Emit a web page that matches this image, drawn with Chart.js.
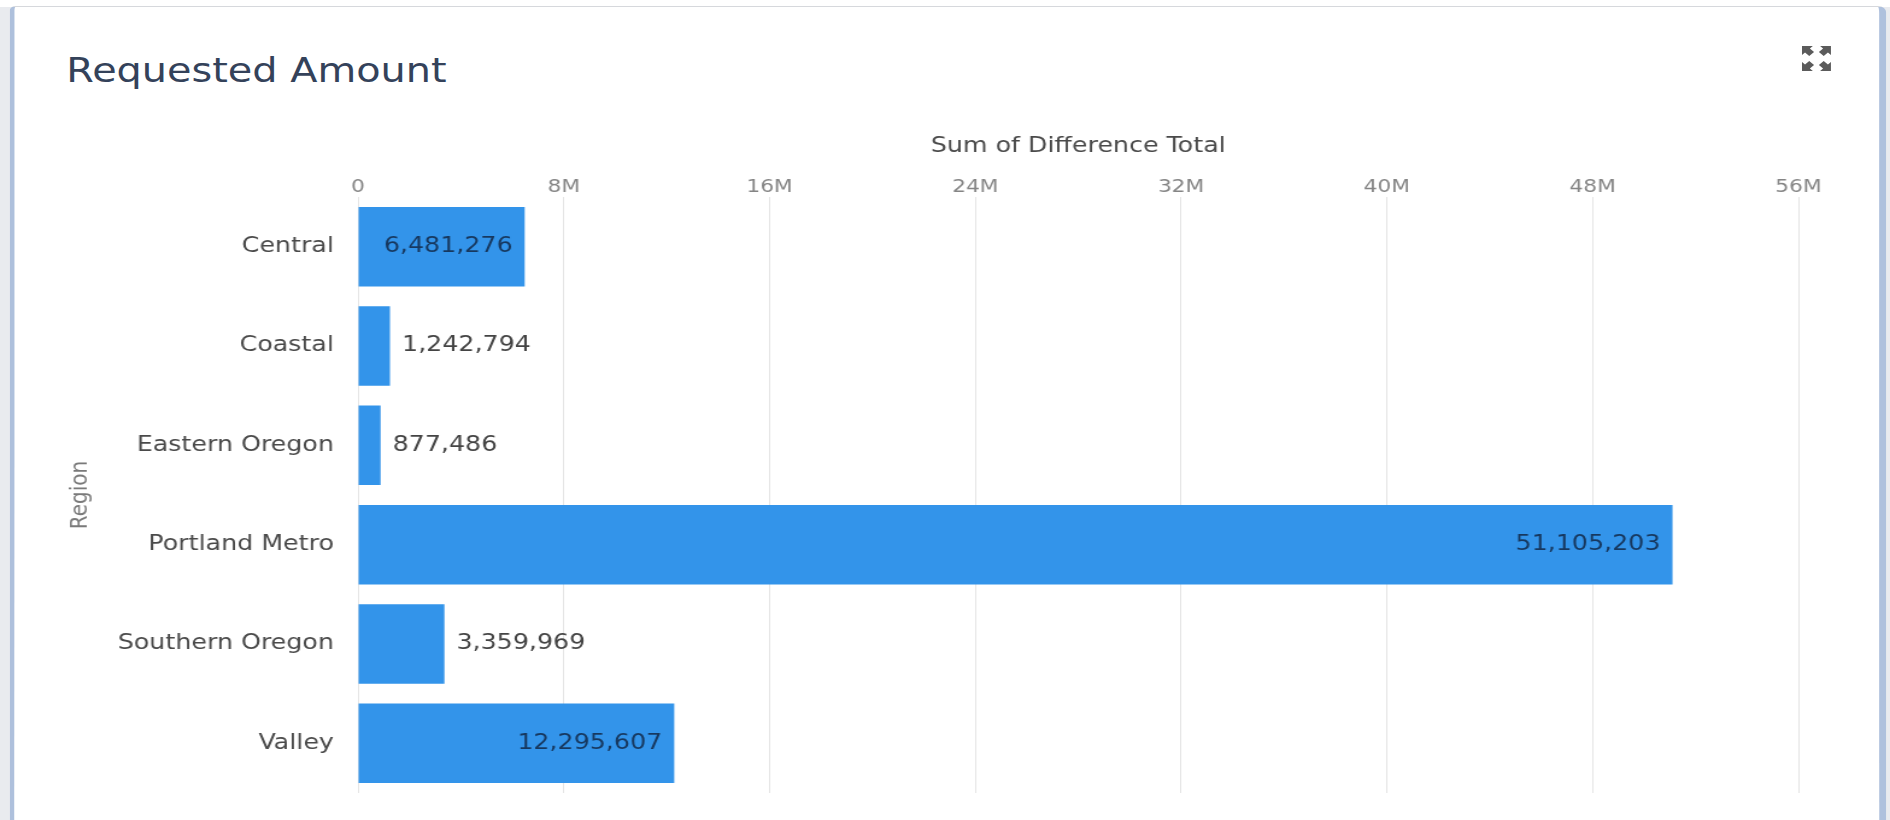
<!DOCTYPE html>
<html>
<head>
<meta charset="utf-8">
<script src="https://cdn.jsdelivr.net/npm/chart.js@4"></script>
<style>
  html, body { margin: 0; padding: 0; }
  html { width: 1890px; height: 820px; overflow: hidden; background: #e9ebef; }
  /* the source screenshot is stretched sideways: lay out at 1568 wide, then stretch to 1890 */
  body { width: 1568px; height: 820px; position: relative; overflow: hidden; background: #e9ebef;
         font-family: "DejaVu Sans", sans-serif; transform: scaleX(1.205357); transform-origin: 0 0; }
  #topband { position: absolute; left: 0; top: 0; width: 1568px; height: 7px; background: #ffffff; }
  #card { position: absolute; left: 8px; top: 6px; right: 3px; bottom: -20px; background: #ffffff;
          border-left: 4px solid #aec0dc; border-right: 6px solid #afc1dd; border-top: 1px solid #d6d8dc;
          border-top-left-radius: 5px; border-top-right-radius: 7px; }
  #title { position: absolute; left: 55px; top: 54px; font-size: 33px; line-height: 33px; color: #34425a; white-space: nowrap; }
  #expand { position: absolute; left: 1494px; top: 45px; width: 26px; height: 27px; }
  #wrap { position: absolute; left: 0; top: 0; width: 1568px; height: 820px; }
</style>
</head>
<body>
<div id="topband"></div>
<div id="card"></div>
<div id="title">Requested Amount</div>
<svg id="expand" viewBox="0 0 26 27" preserveAspectRatio="none">
  <g fill="#5b5b5b">
    <path d="M1 1 L10 1 L7.5 3.5 L11 7 L7 11 L3.5 7.5 L1 10 Z"/>
    <path d="M25 1 L16 1 L18.5 3.5 L15 7 L19 11 L22.5 7.5 L25 10 Z"/>
    <path d="M1 26 L10 26 L7.5 23.5 L11 20 L7 16 L3.5 19.5 L1 17 Z"/>
    <path d="M25 26 L16 26 L18.5 23.5 L15 20 L19 16 L22.5 19.5 L25 17 Z"/>
  </g>
</svg>
<div id="wrap"><canvas id="chart" width="1568" height="820"></canvas></div>
<script>
const regions = ['Central', 'Coastal', 'Eastern Oregon', 'Portland Metro', 'Southern Oregon', 'Valley'];
const amounts = [6481276, 1242794, 877486, 51105203, 3359969, 12295607];
const axisMax = 56000000;
const axisStep = 8000000;

const FONT = '"DejaVu Sans", sans-serif';

// valeurs sur les barres : dedans si ça tient, sinon à droite
const barLabels = {
  id: 'barLabels',
  afterDatasetsDraw(chart) {
    const ctx = chart.ctx;
    const meta = chart.getDatasetMeta(0);
    ctx.save();
    ctx.font = '21px ' + FONT;
    ctx.textBaseline = 'middle';
    meta.data.forEach((bar, i) => {
      const text = amounts[i].toLocaleString('en-US');
      const w = ctx.measureText(text).width;
      const barW = bar.x - bar.base;
      if (barW > w + 20) {
        ctx.textAlign = 'right';
        ctx.fillStyle = '#17385f';
        ctx.fillText(text, bar.x - 10, bar.y);
      } else {
        ctx.textAlign = 'left';
        ctx.fillStyle = '#444444';
        ctx.fillText(text, bar.x + 10, bar.y);
      }
    });
    ctx.restore();
  }
};

new Chart(document.getElementById('chart').getContext('2d'), {
  type: 'bar',
  data: {
    labels: regions,
    datasets: [{
      label: 'Sum of Difference Total',
      data: amounts,
      backgroundColor: '#3394ea',
      borderWidth: 0,
      categoryPercentage: 0.8,
      barPercentage: 1
    }]
  },
  options: {
    indexAxis: 'y',
    responsive: false,
    animation: false,
    layout: { padding: { left: 55, top: 120, right: 76, bottom: 27 } },
    plugins: {
      legend: { display: false },
      tooltip: { enabled: false }
    },
    scales: {
      x: {
        position: 'top',
        min: 0,
        max: axisMax,
        afterFit: (scale) => { scale.height = 77; },
        ticks: {
          stepSize: axisStep,
          padding: -1,
          color: '#858585',
          font: { family: FONT, size: 18 },
          callback: (v) => v === 0 ? '0' : (v / 1000000) + 'M'
        },
        grid: { color: '#e4e4e4', lineWidth: 1, drawTicks: false },
        border: { display: false },
        title: {
          display: true,
          text: 'Sum of Difference Total',
          color: '#4a4a4a',
          font: { family: FONT, size: 21 },
          padding: { top: 14, bottom: 0 }
        }
      },
      y: {
        afterFit: (scale) => {
          scale.width = 242;
          scale.paddingTop = 0;
          scale.paddingBottom = 0;
        },
        ticks: {
          padding: 20,
          color: '#4a4a4a',
          font: { family: FONT, size: 21 }
        },
        grid: { display: false, drawTicks: false },
        border: { display: false },
        title: {
          display: true,
          text: 'Region',
          color: '#7a7a7a',
          font: { family: FONT, size: 20 },
          padding: 0
        }
      }
    }
  },
  plugins: [barLabels]
});
</script>
</body>
</html>
